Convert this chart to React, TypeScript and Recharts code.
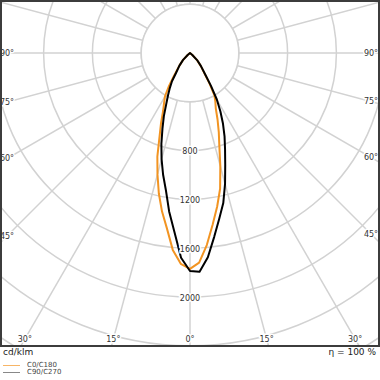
import React from "react";
import {
  RadarChart,
  PolarGrid,
  PolarAngleAxis,
  PolarRadiusAxis,
  Radar,
} from "recharts";

// gamma angles (deg from nadir) and intensities in cd/klm; beyond 55° the intensity is 0
const gammaAngles = [0, 2.5, 5, 7.5, 10, 12.5, 15, 17.5, 20, 22.5, 25, 27.5, 30, 32.5, 35, 40, 45, 50, 55];
const c0Values = [1770, 1720, 1580, 1420, 1280, 1140, 960, 800, 690, 590, 500, 450, 400, 300, 215, 135, 80, 25, 0];
const c180Values = [1770, 1730, 1620, 1450, 1320, 1180, 1030, 890, 730, 620, 520, 460, 410, 320, 230, 135, 80, 25, 0];
const c90Values = [1787, 1795, 1680, 1520, 1380, 1260, 1110, 960, 840, 740, 640, 540, 440, 320, 225, 140, 82, 25, 0];
const c270Values = [1787, 1680, 1470, 1310, 1140, 1020, 900, 780, 660, 560, 460, 390, 330, 275, 200, 135, 80, 25, 0];

const radiusTicks = [400, 800, 1200, 1600, 2000, 2400, 2800, 3200];
const labelledRadii = [800, 1200, 1600, 2000];
const angleTicks = [
  -180, -165, -150, -135, -120, -105, -90, -75, -60, -45, -30, -15,
  0, 15, 30, 45, 60, 75, 90, 105, 120, 135, 150, 165,
];

const W = 380;
const H = 347;
const CX = 190;
const CY = 53;
const R_MAX = 3200;
const OUTER = 390.4;
const GRID = "#d2d2d2";
const ORANGE = "#f29422";
const FONT = "DejaVu Sans, sans-serif";

// left half = C180 / C270, right half = C0 / C90
const leftSide = gammaAngles
  .map((g, i) => ({ theta: -g, c0c180: c180Values[i], c90c270: c270Values[i] }))
  .filter((d) => d.theta !== 0)
  .reverse();
const rightSide = gammaAngles.map((g, i) => ({
  theta: g,
  c0c180: c0Values[i],
  c90c270: c90Values[i],
}));
const data = [...leftSide, ...rightSide];

const haloText = {
  fontSize: 8,
  fontFamily: FONT,
  fill: "#333",
  stroke: "#fff",
  strokeWidth: 3,
  paintOrder: "stroke" as const,
};

function AngleTick(props: any) {
  const t = props.payload?.value;
  if (typeof t !== "number" || Math.abs(t) > 90) return <g />;
  const rad = (t * Math.PI) / 180;
  const sx = Math.sin(rad);
  const sy = Math.cos(rad);
  const tx = Math.abs(sx) < 1e-9 ? Infinity : (sx < 0 ? 7 - CX : W - 9 - CX) / sx;
  const ty = sy < 1e-9 ? Infinity : (339 - CY) / sy;
  const s = Math.min(tx, ty);
  return (
    <text
      x={CX + sx * s}
      y={CY + sy * s}
      textAnchor="middle"
      dominantBaseline="central"
      {...haloText}
    >
      {`${Math.abs(t)}°`}
    </text>
  );
}

function RadiusTick(props: any) {
  const v = props.payload?.value;
  if (!labelledRadii.includes(v)) return <g />;
  return (
    <text
      x={props.x}
      y={props.y + 1}
      textAnchor="middle"
      dominantBaseline="central"
      {...haloText}
    >
      {v}
    </text>
  );
}

export default function App() {
  return (
    <div
      style={{
        position: "absolute",
        left: 0,
        top: 0,
        width: 380,
        height: 380,
        background: "#fff",
        fontFamily: FONT,
      }}
    >
      <div style={{ position: "absolute", left: 0, top: 0, width: W, height: H, overflow: "hidden" }}>
        <RadarChart
          width={W}
          height={H}
          data={data}
          cx={CX}
          cy={CY}
          outerRadius={OUTER}
          startAngle={-270}
          endAngle={90}
          margin={{ top: 0, right: 0, bottom: 0, left: 0 }}
        >
          <PolarGrid gridType="circle" stroke={GRID} strokeWidth={1.5} />
          <circle
            cx={CX}
            cy={CY}
            r={(400 / R_MAX) * OUTER}
            fill="#fff"
            stroke={GRID}
            strokeWidth={1.5}
          />
          <PolarAngleAxis
            dataKey="theta"
            type="number"
            domain={[-180, 180]}
            ticks={angleTicks}
            axisLine={false}
            tickLine={false}
            tick={<AngleTick />}
          />
          <PolarRadiusAxis
            angle={-90}
            domain={[0, R_MAX]}
            ticks={radiusTicks}
            axisLine={false}
            tickLine={false}
            tick={<RadiusTick />}
          />
          <Radar
            name="C0/C180"
            dataKey="c0c180"
            stroke={ORANGE}
            fill="none"
            fillOpacity={0}
            strokeWidth={2}
            strokeLinejoin="round"
            dot={false}
            activeDot={false}
            isAnimationActive={false}
          />
          <Radar
            name="C90/C270"
            dataKey="c90c270"
            stroke="#000"
            fill="none"
            fillOpacity={0}
            strokeWidth={2}
            strokeLinejoin="round"
            dot={false}
            activeDot={false}
            isAnimationActive={false}
          />
        </RadarChart>
      </div>
      <div
        style={{
          position: "absolute",
          left: 0,
          top: 0,
          width: W,
          height: H,
          border: "2px solid #3c3c3c",
          boxSizing: "border-box",
          pointerEvents: "none",
        }}
      />
      <div style={{ position: "absolute", left: 3, top: 347, fontSize: 9, lineHeight: "11px", color: "#222" }}>
        cd/klm
      </div>
      <div style={{ position: "absolute", right: 4, top: 347, fontSize: 9, lineHeight: "11px", color: "#222" }}>
        η = 100 %
      </div>
      <div style={{ position: "absolute", left: 3, top: 365, width: 17, height: 1, background: "#f7b566" }} />
      <div style={{ position: "absolute", left: 27, top: 361, fontSize: 7, lineHeight: "8px", color: "#444" }}>
        C0/C180
      </div>
      <div style={{ position: "absolute", left: 3, top: 372, width: 17, height: 1, background: "#888" }} />
      <div style={{ position: "absolute", left: 27, top: 368, fontSize: 7, lineHeight: "8px", color: "#444" }}>
        C90/C270
      </div>
    </div>
  );
}
